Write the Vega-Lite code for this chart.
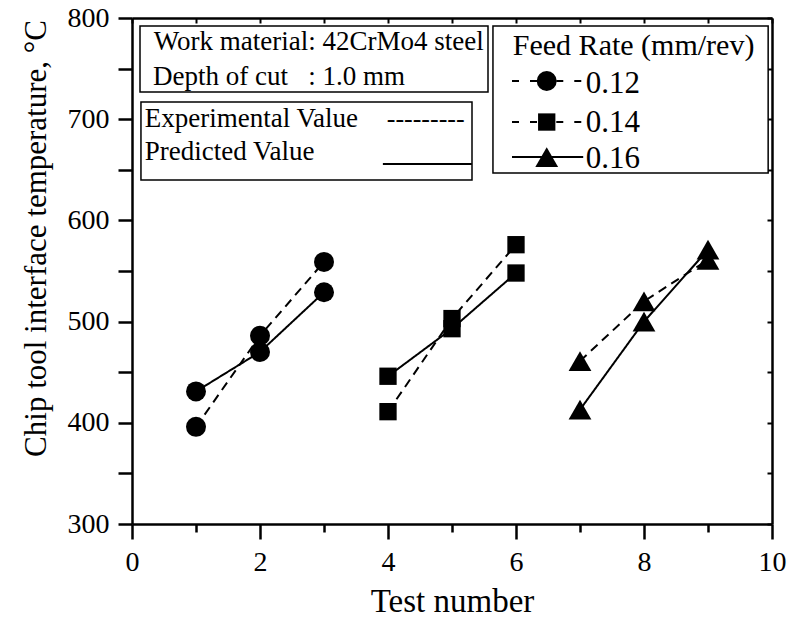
{
  "$schema": "https://vega.github.io/schema/vega-lite/v6.json",
  "width": 640,
  "height": 506,
  "autosize": {"type": "none"},
  "padding": {"left": 132, "top": 18, "right": 21, "bottom": 96},
  "background": "white",
  "config": {
    "view": {"stroke": null},
    "font": "Liberation Serif",
    "axis": {
      "labelFont": "Liberation Serif", "titleFont": "Liberation Serif",
      "labelColor": "black", "titleColor": "black", "domainColor": "black",
      "grid": false, "labelFlush": false, "labelOverlap": false, "titleFontWeight": "normal",
      "ticks": true
    },
    "text": {"font": "Liberation Serif", "color": "black"}
  },
  "datasets": {
    "temps": [
      {"test": 1, "temp": 396, "feed": "0.12", "type": "Experimental"},
      {"test": 2, "temp": 486, "feed": "0.12", "type": "Experimental"},
      {"test": 3, "temp": 559, "feed": "0.12", "type": "Experimental"},
      {"test": 1, "temp": 431, "feed": "0.12", "type": "Predicted"},
      {"test": 2, "temp": 470, "feed": "0.12", "type": "Predicted"},
      {"test": 3, "temp": 529, "feed": "0.12", "type": "Predicted"},
      {"test": 4, "temp": 411, "feed": "0.14", "type": "Experimental"},
      {"test": 5, "temp": 503, "feed": "0.14", "type": "Experimental"},
      {"test": 6, "temp": 576, "feed": "0.14", "type": "Experimental"},
      {"test": 4, "temp": 446, "feed": "0.14", "type": "Predicted"},
      {"test": 5, "temp": 493, "feed": "0.14", "type": "Predicted"},
      {"test": 6, "temp": 548, "feed": "0.14", "type": "Predicted"},
      {"test": 7, "temp": 461, "feed": "0.16", "type": "Experimental"},
      {"test": 8, "temp": 520, "feed": "0.16", "type": "Experimental"},
      {"test": 9, "temp": 561, "feed": "0.16", "type": "Experimental"},
      {"test": 7, "temp": 413, "feed": "0.16", "type": "Predicted"},
      {"test": 8, "temp": 500, "feed": "0.16", "type": "Predicted"},
      {"test": 9, "temp": 571, "feed": "0.16", "type": "Predicted"}
    ],
    "one": [{}]
  },
  "resolve": {"axis": {"x": "independent", "y": "independent"}},
  "layer": [
    {
      "data": {"name": "temps"},
      "layer": [
        {
          "mark": {"type": "line", "color": "black", "strokeWidth": 2},
          "encoding": {
            "x": {
              "field": "test", "type": "quantitative",
              "scale": {"domain": [0, 10], "nice": false, "zero": false},
              "axis": {
                "orient": "bottom", "title": "Test number", "format": "d",
                "values": [0, 1, 2, 3, 4, 5, 6, 7, 8, 9, 10],
                "labelExpr": "datum.value % 2 === 0 ? datum.label : ''",
                "ticks": true,
                "tickSize": {"condition": {"test": "datum.value % 2 === 0", "value": 15}, "value": 8},
                "tickWidth": 2.5, "tickColor": "black", "domainWidth": 2.5,
                "labelFont": "Liberation Serif", "labelFontSize": 28,
                "labelPadding": 9,
                "titleFont": "Liberation Serif", "titleFontSize": 33, "titlePadding": 9
              }
            },
            "y": {
              "field": "temp", "type": "quantitative",
              "scale": {"domain": [300, 800], "nice": false, "zero": false},
              "axis": {
                "orient": "left", "title": "Chip tool interface temperature, °C", "format": "d",
                "values": [300, 350, 400, 450, 500, 550, 600, 650, 700, 750, 800],
                "labelExpr": "datum.value % 100 === 0 ? datum.label : ''",
                "ticks": true,
                "tickSize": 14, "tickWidth": 2.5, "tickColor": "black", "domainWidth": 2.5,
                "labelFont": "Liberation Serif", "labelFontSize": 28,
                "labelPadding": 9,
                "titleFont": "Liberation Serif", "titleFontSize": 31,
                "titleX": -87, "titleY": 220, "titleAngle": 270,
                "titleAlign": "center", "titleBaseline": "alphabetic"
              }
            },
            "detail": {"field": "feed"},
            "strokeDash": {
              "field": "type", "type": "nominal",
              "scale": {"domain": ["Experimental", "Predicted"], "range": [[9, 6], [1, 0]]},
              "legend": null
            }
          }
        },
        {
          "transform": [{"filter": "datum.feed === '0.12'"}],
          "mark": {"type": "point", "shape": "circle", "size": 400, "filled": true, "color": "black", "opacity": 1},
          "encoding": {
            "x": {"field": "test", "type": "quantitative"},
            "y": {"field": "temp", "type": "quantitative"}
          }
        },
        {
          "transform": [{"filter": "datum.feed === '0.14'"}],
          "mark": {"type": "point", "shape": "square", "size": 300, "filled": true, "color": "black", "opacity": 1},
          "encoding": {
            "x": {"field": "test", "type": "quantitative"},
            "y": {"field": "temp", "type": "quantitative"}
          }
        },
        {
          "transform": [{"filter": "datum.feed === '0.16'"}],
          "mark": {"type": "point", "shape": "triangle-up", "size": 520, "filled": true, "color": "black", "opacity": 1},
          "encoding": {
            "x": {"field": "test", "type": "quantitative"},
            "y": {"field": "temp", "type": "quantitative"}
          }
        },
        {
          "data": {"name": "one"},
          "mark": {"type": "rect", "fill": "white", "stroke": "black", "strokeWidth": 1.5},
          "encoding": {
            "x": {"datum": 0.125}, "x2": {"datum": 5.5625},
            "y": {"datum": 792.1}, "y2": {"datum": 726.9}
          }
        },
        {
          "data": {"name": "one"},
          "mark": {"type": "rect", "fill": "white", "stroke": "black", "strokeWidth": 1.5},
          "encoding": {
            "x": {"datum": 0.14}, "x2": {"datum": 5.3125},
            "y": {"datum": 717}, "y2": {"datum": 639.9}
          }
        },
        {
          "data": {"name": "one"},
          "mark": {"type": "rect", "fill": "white", "stroke": "black", "strokeWidth": 1.5},
          "encoding": {
            "x": {"datum": 5.64}, "x2": {"datum": 9.94},
            "y": {"datum": 792.1}, "y2": {"datum": 646.8}
          }
        },
        {
          "data": {"name": "one"},
          "mark": {"type": "text", "text": "Work material: 42CrMo4 steel", "align": "left", "baseline": "alphabetic", "fontSize": 27, "font": "Liberation Serif", "color": "black"},
          "encoding": {"x": {"datum": 0.34}, "y": {"datum": 768.4}}
        },
        {
          "data": {"name": "one"},
          "mark": {"type": "text", "text": "Depth of cut\u00a0\u00a0\u00a0: 1.0 mm", "align": "left", "baseline": "alphabetic", "fontSize": 27, "font": "Liberation Serif", "color": "black"},
          "encoding": {"x": {"datum": 0.33}, "y": {"datum": 733.8}}
        },
        {
          "data": {"name": "one"},
          "mark": {"type": "text", "text": "Experimental Value", "align": "left", "baseline": "alphabetic", "fontSize": 27, "font": "Liberation Serif", "color": "black"},
          "encoding": {"x": {"datum": 0.2}, "y": {"datum": 692.3}}
        },
        {
          "data": {"name": "one"},
          "mark": {"type": "text", "text": "---------", "align": "left", "baseline": "alphabetic", "fontSize": 26, "font": "Liberation Serif", "color": "black"},
          "encoding": {"x": {"datum": 3.98}, "y": {"datum": 692.3}}
        },
        {
          "data": {"name": "one"},
          "mark": {"type": "text", "text": "Predicted Value", "align": "left", "baseline": "alphabetic", "fontSize": 27, "font": "Liberation Serif", "color": "black"},
          "encoding": {"x": {"datum": 0.2}, "y": {"datum": 659.7}}
        },
        {
          "data": {"name": "one"},
          "mark": {"type": "rule", "color": "black", "strokeWidth": 2},
          "encoding": {"x": {"datum": 3.92}, "x2": {"datum": 5.31}, "y": {"datum": 655.7}}
        },
        {
          "data": {"name": "one"},
          "mark": {"type": "text", "text": "Feed Rate (mm/rev)", "align": "left", "baseline": "alphabetic", "fontSize": 30, "font": "Liberation Serif", "color": "black"},
          "encoding": {"x": {"datum": 5.95}, "y": {"datum": 763.4}}
        },
        {
          "data": {"name": "one"},
          "mark": {"type": "rule", "color": "black", "strokeWidth": 2, "strokeDash": [7, 11]},
          "encoding": {"x": {"datum": 5.9375}, "x2": {"datum": 6.48}, "y": {"datum": 737.7}}
        },
        {
          "data": {"name": "one"},
          "mark": {"type": "rule", "color": "black", "strokeWidth": 2, "strokeDash": [7, 11]},
          "encoding": {"x": {"datum": 7.02}, "x2": {"datum": 6.48}, "y": {"datum": 737.7}}
        },
        {
          "data": {"name": "one"},
          "mark": {"type": "rule", "color": "black", "strokeWidth": 2, "strokeDash": [7, 11]},
          "encoding": {"x": {"datum": 5.9375}, "x2": {"datum": 6.48}, "y": {"datum": 697.2}}
        },
        {
          "data": {"name": "one"},
          "mark": {"type": "rule", "color": "black", "strokeWidth": 2, "strokeDash": [7, 11]},
          "encoding": {"x": {"datum": 7.02}, "x2": {"datum": 6.48}, "y": {"datum": 697.2}}
        },
        {
          "data": {"name": "one"},
          "mark": {"type": "rule", "color": "black", "strokeWidth": 2},
          "encoding": {"x": {"datum": 5.9375}, "x2": {"datum": 7.05}, "y": {"datum": 662.6}}
        },
        {
          "data": {"name": "one"},
          "mark": {"type": "point", "shape": "circle", "size": 400, "filled": true, "color": "black", "opacity": 1},
          "encoding": {"x": {"datum": 6.48}, "y": {"datum": 737.7}}
        },
        {
          "data": {"name": "one"},
          "mark": {"type": "point", "shape": "square", "size": 300, "filled": true, "color": "black", "opacity": 1},
          "encoding": {"x": {"datum": 6.48}, "y": {"datum": 697.2}}
        },
        {
          "data": {"name": "one"},
          "mark": {"type": "point", "shape": "triangle-up", "size": 520, "filled": true, "color": "black", "opacity": 1},
          "encoding": {"x": {"datum": 6.48}, "y": {"datum": 662.6}}
        },
        {
          "data": {"name": "one"},
          "mark": {"type": "text", "text": "0.12", "align": "left", "baseline": "alphabetic", "fontSize": 31, "font": "Liberation Serif", "color": "black"},
          "encoding": {"x": {"datum": 7.09}, "y": {"datum": 725.9}}
        },
        {
          "data": {"name": "one"},
          "mark": {"type": "text", "text": "0.14", "align": "left", "baseline": "alphabetic", "fontSize": 31, "font": "Liberation Serif", "color": "black"},
          "encoding": {"x": {"datum": 7.09}, "y": {"datum": 687.4}}
        },
        {
          "data": {"name": "one"},
          "mark": {"type": "text", "text": "0.16", "align": "left", "baseline": "alphabetic", "fontSize": 31, "font": "Liberation Serif", "color": "black"},
          "encoding": {"x": {"datum": 7.09}, "y": {"datum": 651.8}}
        }
      ]
    },
    {
      "data": {"name": "one"},
      "mark": {"type": "point", "opacity": 0},
      "encoding": {
        "x": {
          "datum": 0, "type": "quantitative",
          "axis": {
            "orient": "top", "title": null, "labels": false,
            "values": [0, 1, 2, 3, 4, 5, 6, 7, 8, 9, 10],
            "tickSize": -5, "tickWidth": 2, "tickColor": "black",
            "domainWidth": 2.5
          }
        },
        "y": {
          "datum": 300, "type": "quantitative",
          "axis": {
            "orient": "right", "title": null, "labels": false,
            "values": [300, 350, 400, 450, 500, 550, 600, 650, 700, 750, 800],
            "tickSize": -5, "tickWidth": 2, "tickColor": "black",
            "domainWidth": 2.5
          }
        }
      }
    }
  ]
}
